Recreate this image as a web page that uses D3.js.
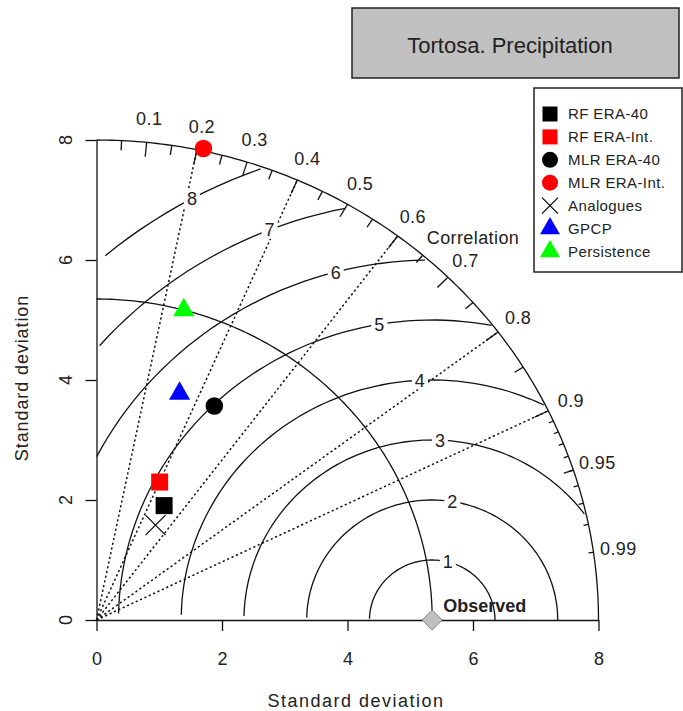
<!DOCTYPE html>
<html><head><meta charset="utf-8">
<script src="https://cdn.jsdelivr.net/npm/d3@7"></script>
<style>
body{margin:0;background:#fff;}
svg{display:block;font-family:"Liberation Sans",Arial,sans-serif;}
</style></head><body>
<svg id="chart" width="683" height="711"></svg>
<script>
// ---------- data ----------
const chartTitle = "Tortosa. Precipitation";
const models = ["RF ERA-40", "RF ERA-Int.", "MLR ERA-40", "MLR ERA-Int.", "Analogues", "GPCP", "Persistence"];
const sdValues = [2.19, 2.51, 4.03, 8.04, 1.84, 4.00, 5.35];
const corValues = [0.492, 0.401, 0.466, 0.212, 0.511, 0.331, 0.260];
const markerColors = ["#000000", "#ff0000", "#000000", "#ff0000", "#000000", "#0000ff", "#00ff00"];
const markerShapes = ["square", "square", "circle", "circle", "cross", "triangle", "triangle"];
const observedSD = 5.35;
const maxSD = 8;
const axisTicks = [0, 2, 4, 6, 8];
const corrLines = [0.2, 0.4, 0.6, 0.8, 0.9];
const corrLabels = [0.1, 0.2, 0.3, 0.4, 0.5, 0.6, 0.7, 0.8, 0.9, 0.95, 0.99];
const corrMajorTicks = [0.1, 0.2, 0.3, 0.4, 0.5, 0.6, 0.7, 0.8, 0.9];
const corrMediumTicks = [0.05, 0.15, 0.25, 0.35, 0.45, 0.55, 0.65, 0.75, 0.85, 0.95];
const corrSmallTicks = [0.91, 0.92, 0.93, 0.94, 0.95, 0.96, 0.97, 0.98, 0.99];
const rmsLevels = [1, 2, 3, 4, 5, 6, 7, 8];
const axisTitle = "Standard deviation";

// ---------- setup ----------
const svg = d3.select("#chart");
svg.append("rect").attr("width", 683).attr("height", 711).attr("fill", "#fff");
const x = d3.scaleLinear().domain([0, maxSD]).range([96.5, 598.5]);
const y = d3.scaleLinear().domain([0, maxSD]).range([620, 140]);
const ink = "#111";
const sw = 1.3;
const line = d3.line().x(d => x(d[0])).y(d => y(d[1]));
const polar = (r, c) => [r * c, r * Math.sqrt(Math.max(0, 1 - c * c))];

// title box
svg.append("rect").attr("x", 352).attr("y", 8).attr("width", 327).attr("height", 70)
  .attr("fill", "#c0c0c0").attr("stroke", "#222").attr("stroke-width", 1.5);
svg.append("text").attr("x", 510).attr("y", 53).attr("text-anchor", "middle")
  .attr("font-size", 22).attr("fill", "#222").text(chartTitle);

// correlation dotted rays
corrLines.forEach(c => {
  svg.append("path").attr("d", line([[0, 0], polar(maxSD, c)]))
    .attr("fill", "none").attr("stroke", ink).attr("stroke-width", 1.5).attr("stroke-dasharray", "2.2,2.6");
});

// axes
const gx = svg.append("g").attr("transform", `translate(0,${y(0)})`)
  .call(d3.axisBottom(x).tickValues(axisTicks).tickSize(11).tickSizeOuter(0).tickFormat(d3.format("d")));
gx.selectAll("text").attr("y", 45).attr("dy", 0).attr("font-size", 18).attr("fill", "#222")
  .attr("font-family", "Liberation Sans, Arial, sans-serif");
const gy = svg.append("g").attr("transform", `translate(${x(0)},0)`)
  .call(d3.axisLeft(y).tickValues(axisTicks).tickSize(11).tickSizeOuter(0).tickFormat(""));
[gx, gy].forEach(g => {
  g.selectAll("path.domain").attr("stroke", ink).attr("stroke-width", sw);
  g.selectAll(".tick line").attr("stroke", ink).attr("stroke-width", sw);
});
axisTicks.forEach(t => {
  svg.append("text").attr("transform", `translate(72,${y(t)}) rotate(-90)`)
    .attr("text-anchor", "middle").attr("font-size", 18).attr("fill", "#222").text(t);
});

// axis titles
svg.append("text").attr("x", 356).attr("y", 707).attr("text-anchor", "middle")
  .attr("font-size", 18).attr("letter-spacing", 1.5).attr("fill", "#222").text(axisTitle);
svg.append("text").attr("transform", "translate(28,378) rotate(-90)").attr("text-anchor", "middle")
  .attr("font-size", 18).attr("letter-spacing", 0.9).attr("fill", "#222").text(axisTitle);

// reference SD arc
const arcAngles = d3.range(0, Math.PI / 2, 0.01).concat([Math.PI / 2]);
svg.append("path").attr("d", line(arcAngles.map(a => [Math.cos(a) * observedSD, Math.sin(a) * observedSD])))
  .attr("fill", "none").attr("stroke", ink).attr("stroke-width", sw);

// RMS contours
const gAngles = d3.range(0, 105).map(i => i * 0.03);
rmsLevels.forEach((g, gi) => {
  const xs = gAngles.map(a => Math.cos(a) * g + observedSD);
  const ys = gAngles.map(a => Math.sin(a) * g);
  let end = xs.findIndex(v => v < 0);
  end = end === -1 ? xs.length - 1 : end - 1;
  let start = -1;
  xs.forEach((v, i) => { if (v * v + ys[i] * ys[i] > maxSD * maxSD) start = i; });
  start = start + 1;
  const pts = [];
  for (let i = start; i <= end; i++) pts.push([xs[i], ys[i]]);
  svg.append("path").attr("d", line(pts)).attr("fill", "none").attr("stroke", ink).attr("stroke-width", sw);
});
rmsLevels.forEach((g, gi) => {
  const idx = Math.floor(45 + (70 - 45) * gi / (rmsLevels.length - 1)) - 1;
  const a = gAngles[idx];
  const lx = x(Math.cos(a) * g + observedSD), ly = y(Math.sin(a) * g);
  svg.append("rect").attr("x", lx - 8).attr("y", ly - 9).attr("width", 16).attr("height", 18).attr("fill", "#fff");
  svg.append("text").attr("x", lx).attr("y", ly).attr("dy", "0.36em").attr("text-anchor", "middle")
    .attr("font-size", 18).attr("fill", "#222").text(g);
});

// outer arc
svg.append("path").attr("d", line(arcAngles.map(a => [Math.cos(a) * maxSD, Math.sin(a) * maxSD])))
  .attr("fill", "none").attr("stroke", ink).attr("stroke-width", sw);
function ticks(list, frac) {
  list.forEach(c => {
    svg.append("path").attr("d", line([polar(maxSD, c), polar(maxSD * frac, c)]))
      .attr("stroke", ink).attr("stroke-width", sw);
  });
}
ticks(corrMajorTicks, 0.97);
ticks(corrMediumTicks, 0.98);
ticks(corrSmallTicks, 0.99);
corrLabels.forEach(c => {
  const p = polar(maxSD * 1.05, c);
  svg.append("text").attr("x", x(p[0])).attr("y", y(p[1])).attr("dy", "0.36em").attr("text-anchor", "middle")
    .attr("font-size", 18).attr("letter-spacing", 0.4).attr("fill", "#222").text(c);
});
svg.append("text").attr("x", x(6.0)).attr("y", y(6.38)).attr("dy", "0.36em").attr("text-anchor", "middle")
  .attr("font-size", 18).attr("letter-spacing", 0.4).attr("fill", "#222").text("Correlation");

// observed
const ox = x(observedSD), oy = y(0);
svg.append("path").attr("d", `M${ox},${oy - 10}L${ox + 10},${oy}L${ox},${oy + 10}L${ox - 10},${oy}Z`)
  .attr("fill", "#c0c0c0").attr("stroke", "#808080").attr("stroke-width", 1);
svg.append("text").attr("x", ox + 11).attr("y", 612).attr("font-size", 18).attr("font-weight", "bold")
  .attr("fill", "#222").text("Observed");

// markers
function marker(g, shape, color, cx, cy, s) {
  if (shape === "square") {
    g.append("rect").attr("x", cx - s.sq / 2).attr("y", cy - s.sq / 2).attr("width", s.sq).attr("height", s.sq).attr("fill", color);
  } else if (shape === "circle") {
    g.append("circle").attr("cx", cx).attr("cy", cy).attr("r", s.ci).attr("fill", color);
  } else if (shape === "triangle") {
    const r = s.tr, xc = r * Math.sqrt(3) / 2;
    g.append("path").attr("d", `M${cx},${cy - r}L${cx + xc},${cy + r / 2}L${cx - xc},${cy + r / 2}Z`).attr("fill", color);
  } else if (shape === "cross") {
    const h = s.cr;
    g.append("path").attr("d", `M${cx - h},${cy - h}L${cx + h},${cy + h}M${cx - h},${cy + h}L${cx + h},${cy - h}`)
      .attr("stroke", color).attr("stroke-width", 1.2).attr("fill", "none");
  }
}
const plotSize = { sq: 17, ci: 8.8, tr: 12.2, cr: 10 };
models.forEach((m, i) => {
  const p = polar(sdValues[i], corValues[i]);
  marker(svg, markerShapes[i], markerColors[i], x(p[0]), y(p[1]), plotSize);
});

// legend
svg.append("rect").attr("x", 534).attr("y", 88).attr("width", 148).attr("height", 184)
  .attr("fill", "#fff").attr("stroke", "#222").attr("stroke-width", 1.5);
const legSize = { sq: 15, ci: 8, tr: 11.5, cr: 8 };
models.forEach((m, i) => {
  const cy = 114 + i * 22.9;
  marker(svg, markerShapes[i], markerColors[i], 550, cy, legSize);
  svg.append("text").attr("x", 568).attr("y", cy).attr("dy", "0.36em").attr("font-size", 15)
    .attr("letter-spacing", 0.4).attr("fill", "#222").text(m);
});
</script>
</body></html>
